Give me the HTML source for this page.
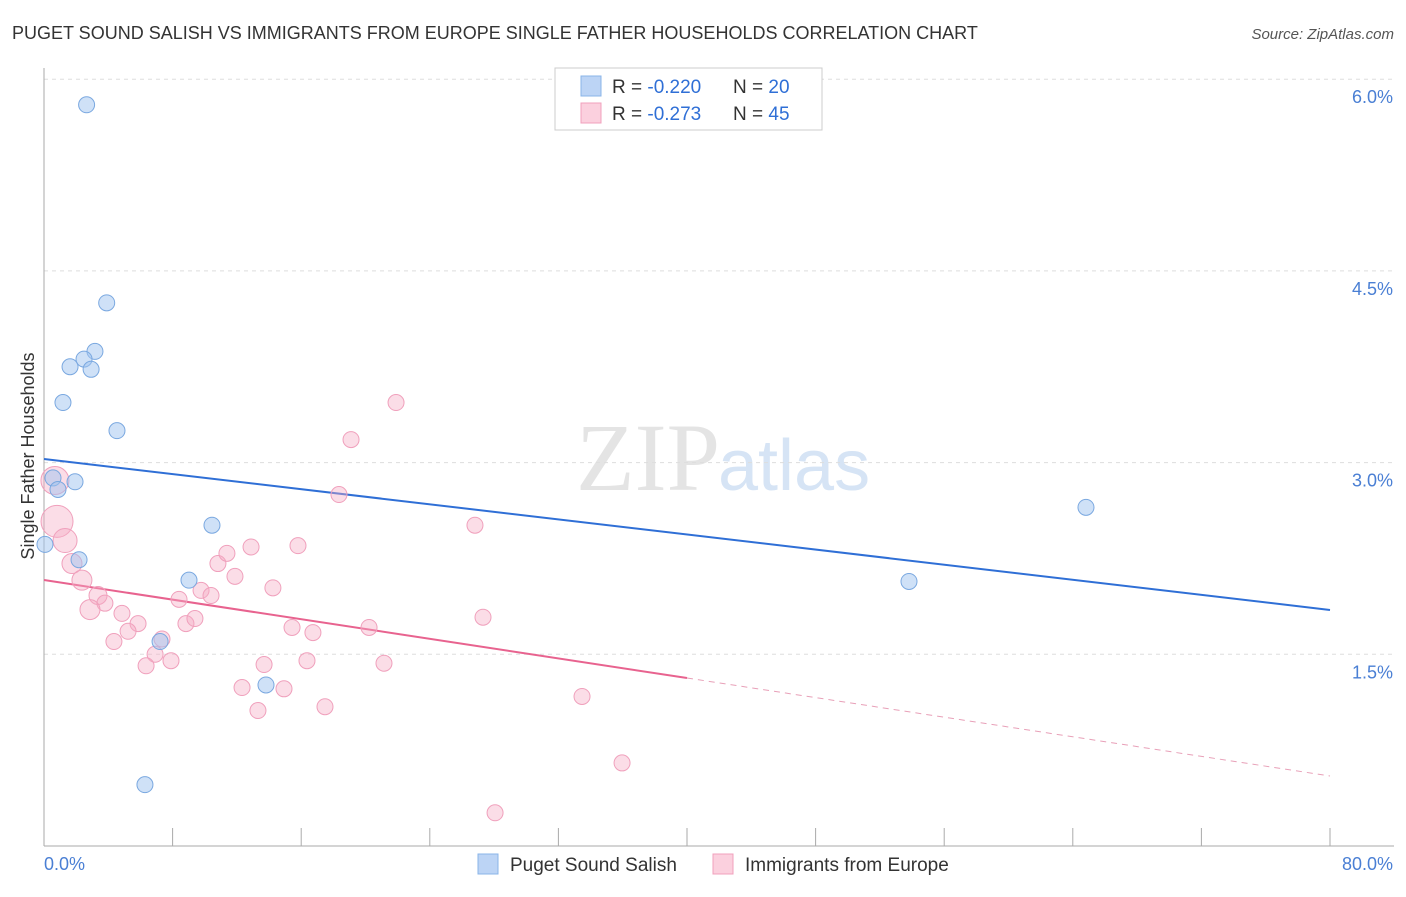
<!DOCTYPE html>
<html><head><meta charset="utf-8"><style>
body{margin:0;background:#fff;font-family:"Liberation Sans",sans-serif}
</style></head><body>
<svg width="1406" height="892" xmlns="http://www.w3.org/2000/svg">
<text x="12" y="39" font-size="18" fill="#333">PUGET SOUND SALISH VS IMMIGRANTS FROM EUROPE SINGLE FATHER HOUSEHOLDS CORRELATION CHART</text>
<text x="1394" y="39" font-size="15" fill="#555" font-style="italic" text-anchor="end">Source: ZipAtlas.com</text>
<text x="720" y="490" font-size="96" fill="#e4e4e4" text-anchor="end" font-family="Liberation Serif">ZIP</text>
<text x="718" y="490" font-size="72" fill="#d6e4f5">atlas</text>
<g id="grid"></g>
<g id="axes"></g>
<g id="lines"></g>
<g id="pts"></g>
<text transform="translate(34,456) rotate(-90)" font-size="18" fill="#333" text-anchor="middle">Single Father Households</text>
<text x="44" y="870" font-size="18" fill="#4a7fd4">0.0%</text>
<text x="1393" y="870" font-size="18" fill="#4a7fd4" text-anchor="end">80.0%</text>
<g>
<rect x="555" y="68" width="267" height="62" fill="#fff" stroke="#ccc"/>
<rect x="581" y="76" width="20" height="20" fill="#bcd4f5" stroke="#8ab4e8"/>
<rect x="581" y="103" width="20" height="20" fill="#fbd0de" stroke="#f0a0bc"/>
<text x="612" y="93" font-size="19" fill="#333">R = <tspan fill="#2f6fd6">-0.220</tspan><tspan x="733">N = </tspan><tspan fill="#2f6fd6">20</tspan></text>
<text x="612" y="120" font-size="19" fill="#333">R = <tspan fill="#2f6fd6">-0.273</tspan><tspan x="733">N = </tspan><tspan fill="#2f6fd6">45</tspan></text>
</g>
<g>
<rect x="478" y="854" width="20" height="20" fill="#bcd4f5" stroke="#8ab4e8"/>
<text x="510" y="871" font-size="19" fill="#333">Puget Sound Salish</text>
<rect x="713" y="854" width="20" height="20" fill="#fbd0de" stroke="#f0a0bc"/>
<text x="745" y="871" font-size="19" fill="#333">Immigrants from Europe</text>
</g>
</svg>
<script>
const yTicks=[1.5,3.0,4.5,6.0];
const yTickLabels=["1.5%","3.0%","4.5%","6.0%"];
const xTicks=[0,8,16,24,32,40,48,56,64,72,80];
const blueX=[2.65,3.90,3.17,2.49,1.62,2.93,1.18,4.54,0.56,1.93,0.87,10.45,0.06,2.18,9.02,7.22,13.81,6.28,64.82,53.81];
const blueY=[5.80,4.25,3.87,3.81,3.75,3.73,3.47,3.25,2.88,2.85,2.79,2.51,2.36,2.24,2.08,1.60,1.26,0.48,2.65,2.07];
const pinkX=[0.68,0.81,1.31,1.74,2.36,3.36,3.79,2.86,4.85,5.85,5.23,4.35,7.34,6.91,6.35,7.90,8.40,8.83,9.39,9.77,10.39,10.82,11.38,11.88,12.88,14.24,15.43,15.80,16.73,16.36,13.69,12.32,14.93,13.31,17.48,18.35,19.10,20.22,21.15,21.90,26.81,27.31,33.47,35.96,28.06];
const pinkY=[2.86,2.54,2.39,2.21,2.08,1.96,1.90,1.85,1.82,1.74,1.68,1.60,1.62,1.50,1.41,1.45,1.93,1.74,1.78,2.00,1.96,2.21,2.29,2.11,2.34,2.02,1.71,2.35,1.67,1.45,1.42,1.24,1.23,1.06,1.09,2.75,3.18,1.71,1.43,3.47,2.51,1.79,1.17,0.65,0.26];
const pinkR=[14,16,12,10,10,9,8,10,8,8,8,8,8,8,8,8,8,8,8,8,8,8,8,8,8,8,8,8,8,8,8,8,8,8,8,8,8,8,8,8,8,8,8,8,8];
const blueTrend=[3.028,1.847];
const pinkTrend=[2.081,0.548];
const pinkSolidEnd=40;
const X=v=>44+v/80*1286, Y=v=>846-v*127.8;
const NS="http://www.w3.org/2000/svg";
function mk(p,t,a){const e=document.createElementNS(NS,t);for(const k in a)e.setAttribute(k,a[k]);document.getElementById(p).appendChild(e);return e;}
yTicks.forEach((t,i)=>{
 const l=mk('grid','line',{x1:44,x2:1394,y1:Y(t),y2:Y(t),stroke:'#ddd','stroke-dasharray':'4,4'});
 
 
 const tx=mk('grid','text',{x:1393,y:Y(t)+24,'font-size':18,fill:'#4a7fd4','text-anchor':'end'});
 tx.textContent=yTickLabels[i];
 
 
});
const ax=mk('axes','line',{x1:44,x2:1394,y1:846,y2:846,stroke:'#aaa'});


const ay=mk('axes','line',{x1:44,x2:44,y1:68,y2:846,stroke:'#aaa'});


xTicks.forEach(t=>{
 const l=mk('axes','line',{x1:X(t),x2:X(t),y1:828,y2:846,stroke:'#aaa'});
 
 
});
const bl=mk('lines','line',{x1:X(0),y1:Y(blueTrend[0]),x2:X(80),y2:Y(blueTrend[1]),stroke:'#2f6fd6','stroke-width':2});


const pm=pinkTrend[0]+(pinkTrend[1]-pinkTrend[0])*pinkSolidEnd/80;
const pl=mk('lines','line',{x1:X(0),y1:Y(pinkTrend[0]),x2:X(pinkSolidEnd),y2:Y(pm),stroke:'#e8638f','stroke-width':2});


const pd=mk('lines','line',{x1:X(pinkSolidEnd),y1:Y(pm),x2:X(80),y2:Y(pinkTrend[1]),stroke:'#e8a0b8','stroke-width':1,'stroke-dasharray':'6,5'});


pinkX.forEach((v,i)=>{
 const c=mk('pts','circle',{cx:X(v),cy:Y(pinkY[i]),r:pinkR[i],fill:'rgba(246,170,196,0.4)',stroke:'#f0a0bc','stroke-width':1});
 
 
});
blueX.forEach((v,i)=>{
 const c=mk('pts','circle',{cx:X(v),cy:Y(blueY[i]),r:8,fill:'rgba(160,195,240,0.5)',stroke:'#7aa8e0','stroke-width':1});
 
 
});
</script>
</body></html>
